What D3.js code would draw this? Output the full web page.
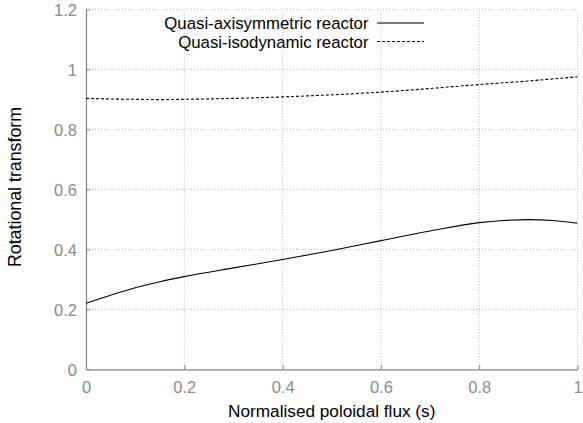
<!DOCTYPE html>
<html>
<head>
<meta charset="utf-8">
<script src="https://cdn.jsdelivr.net/npm/d3@7"></script>
<style>
  html, body { margin: 0; padding: 0; background: #fff; }
  svg { display: block; font-family: "Liberation Sans", Arial, Helvetica, sans-serif; }
</style>
</head>
<body>
<svg id="chart" width="583" height="423"></svg>
<script>
// Rotational transform profiles against normalised poloidal flux
const sValues = [0, 0.05, 0.1, 0.15, 0.2, 0.3, 0.4, 0.5, 0.6, 0.7, 0.8, 0.85, 0.9, 0.95, 1.0];
const iotaQA = [0.22, 0.247, 0.272, 0.292, 0.309, 0.338, 0.366, 0.396, 0.429, 0.461, 0.489, 0.496, 0.499, 0.496, 0.487];
const iotaQI = [0.903, 0.901, 0.900, 0.899, 0.900, 0.903, 0.908, 0.915, 0.924, 0.936, 0.949, 0.955, 0.961, 0.968, 0.975];
const seriesNames = ["Quasi-axisymmetric reactor", "Quasi-isodynamic reactor"];
const xTicks = [0, 0.2, 0.4, 0.6, 0.8, 1];
const yTicks = [0, 0.2, 0.4, 0.6, 0.8, 1, 1.2];

const svg = d3.select("#chart");
const margin = { left: 86, right: 5.5, top: 9.3, bottom: 53.7 };
const W = 583, H = 423;

const x = d3.scaleLinear().domain([0, 1]).range([margin.left, W - margin.right]);
const y = d3.scaleLinear().domain([0, 1.2]).range([H - margin.bottom, margin.top]);

const gridColor = "#9a9a9a";
const axisColor = "#808080";

// dotted grid lines (including the top and right frame edges)
const grid = svg.append("g");
grid.selectAll("line.gx").data(xTicks.filter(d => d > 0)).join("line")
  .attr("x1", d => x(d)).attr("x2", d => x(d))
  .attr("y1", y(0)).attr("y2", y(1.2))
  .attr("stroke", gridColor).attr("stroke-width", 0.8).attr("stroke-dasharray", "1,2");
grid.selectAll("line.gy").data(yTicks.filter(d => d > 0)).join("line")
  .attr("x1", x(0)).attr("x2", x(1))
  .attr("y1", d => y(d)).attr("y2", d => y(d))
  .attr("stroke", gridColor).attr("stroke-width", 0.8).attr("stroke-dasharray", "1,2");

// axes: solid left and bottom lines, short inward ticks, grey labels
const fmt = d3.format("");
const xAxis = d3.axisBottom(x).tickValues(xTicks).tickSizeInner(-4).tickSizeOuter(0).tickFormat(fmt);
const yAxis = d3.axisLeft(y).tickValues(yTicks).tickSizeInner(-4).tickSizeOuter(0).tickFormat(fmt);

const gx = svg.append("g").attr("transform", `translate(0,${y(0)})`).call(xAxis);
const gy = svg.append("g").attr("transform", `translate(${x(0)},0)`).call(yAxis);
[gx, gy].forEach(g => {
  g.select(".domain").attr("stroke", axisColor).attr("stroke-width", 1.2);
  g.selectAll(".tick line").attr("stroke", axisColor).attr("stroke-width", 1);
  g.selectAll(".tick text").attr("fill", "#8a8a8a").attr("font-size", 16.5)
    .attr("font-family", "Liberation Sans, Arial, sans-serif");
});
gx.selectAll(".tick text").attr("y", 23.4).attr("dy", null);
gy.selectAll(".tick text").attr("x", -9).attr("dy", "0.36em");

// axis titles
svg.append("text")
  .attr("x", (x(0) + x(1)) / 2).attr("y", 417)
  .attr("text-anchor", "middle").attr("font-size", 17.2).attr("fill", "#000")
  .text("Normalised poloidal flux (s)");
svg.append("text")
  .attr("transform", `translate(21,187) rotate(-90)`)
  .attr("text-anchor", "middle").attr("font-size", 17.8).attr("fill", "#000")
  .text("Rotational transform");

// profile curves
const line = d3.line().x(d => x(d[0])).y(d => y(d[1])).curve(d3.curveMonotoneX);
const styles = [
  { data: d3.zip(sValues, iotaQA), dash: null },
  { data: d3.zip(sValues, iotaQI), dash: "3,2" }
];
styles.forEach(s => {
  svg.append("path").datum(s.data)
    .attr("d", line).attr("fill", "none").attr("stroke", "#000")
    .attr("stroke-width", 1.1).attr("stroke-dasharray", s.dash);
});

// legend
const legend = svg.append("g");
seriesNames.forEach((name, i) => {
  const ly = 23 + i * 18.5;
  legend.append("text")
    .attr("x", 368.5).attr("y", ly + 6)
    .attr("text-anchor", "end").attr("font-size", 16.8).attr("fill", "#000")
    .text(name);
  legend.append("line")
    .attr("x1", 377).attr("x2", 424).attr("y1", ly).attr("y2", ly)
    .attr("stroke", "#000").attr("stroke-width", 1.1)
    .attr("stroke-dasharray", styles[i].dash);
});
</script>
</body>
</html>
